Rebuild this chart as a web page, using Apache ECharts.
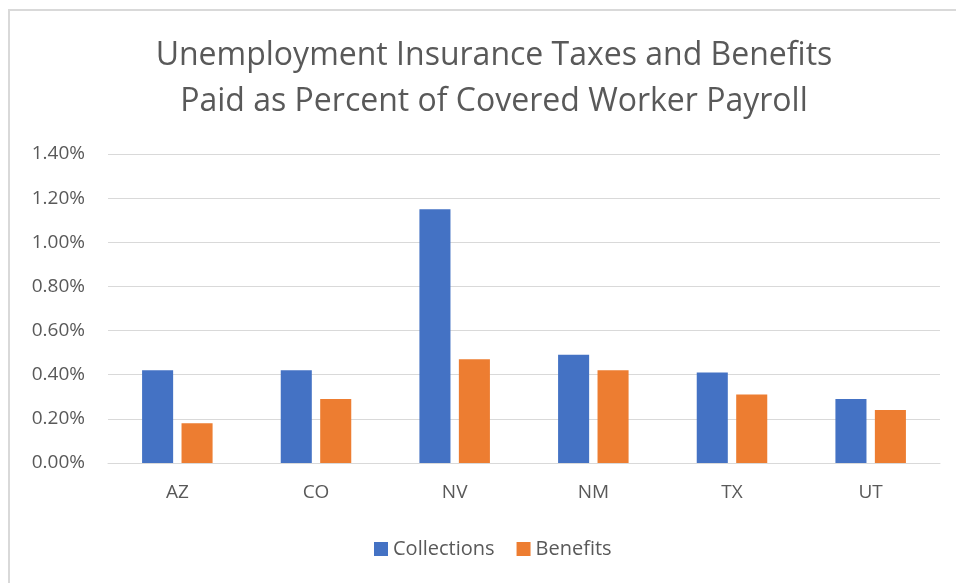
<!DOCTYPE html>
<html>
<head>
<meta charset="utf-8">
<script src="https://cdn.jsdelivr.net/npm/echarts@6/dist/echarts.min.js"></script>
<style>
  html, body { margin: 0; padding: 0; background: #fff; overflow: hidden; }
  .frame {
    position: absolute; left: 8px; top: 9px; width: 1000px; height: 1000px;
    border: 2px solid #d9d9d9; box-sizing: border-box;
  }
  #chart { position: absolute; left: 0; top: 0; width: 956px; height: 583px; }
</style>
</head>
<body>
<div class="frame"></div>
<div id="chart"></div>
<script>
  // data
  var states = ['AZ', 'CO', 'NV', 'NM', 'TX', 'UT']
  var collections = [0.42, 0.42, 1.15, 0.49, 0.41, 0.29]
  var benefits = [0.18, 0.29, 0.47, 0.42, 0.31, 0.24]
  var yTicks = [0, 0.2, 0.4, 0.6, 0.8, 1.0, 1.2, 1.4]

  var font = '"Open Sans", "Noto Sans", sans-serif'
  var grey = '#595959'

  var chart = echarts.init(document.getElementById('chart'))
  var options = {
    animation: false,
    color: ['#4472C4', '#ED7D31'],
    title: {
      text: 'Unemployment Insurance Taxes and Benefits\nPaid as Percent of Covered Worker Payroll',
      left: 489,
      top: 28,
      textAlign: 'center',
      textStyle: {
        fontFamily: font,
        fontSize: 32,
        fontWeight: 'normal',
        color: grey,
        lineHeight: 46
      }
    },
    legend: {
      left: 369,
      top: 534,
      icon: 'rect',
      itemWidth: 14,
      itemHeight: 14,
      itemGap: 22,
      textStyle: { fontFamily: font, fontSize: 20, color: grey }
    },
    grid: {
      left: 108,
      right: 16,
      top: 154,
      bottom: 120,
      containLabel: false
    },
    xAxis: {
      type: 'category',
      data: states,
      axisTick: { show: false },
      axisLine: { lineStyle: { color: '#d9d9d9', width: 1 } },
      axisLabel: { margin: 20, fontFamily: font, fontSize: 19, color: grey }
    },
    yAxis: {
      type: 'value',
      min: yTicks[0],
      max: yTicks[yTicks.length - 1],
      interval: 0.2,
      axisLine: { show: false },
      axisTick: { show: false },
      splitLine: { lineStyle: { color: '#d9d9d9', width: 1 } },
      axisLabel: {
        margin: 23,
        fontFamily: font,
        fontSize: 19,
        color: grey,
        formatter: function (v) { return v.toFixed(2) + '%' }
      }
    },
    series: [{
      name: 'Collections',
      type: 'bar',
      data: collections,
      barWidth: '22.4%',
      barGap: '27%'
    }, {
      name: 'Benefits',
      type: 'bar',
      data: benefits,
      barWidth: '22.4%',
      barGap: '27%'
    }]
  }
  chart.setOption(options, true)
</script>
</body>
</html>
